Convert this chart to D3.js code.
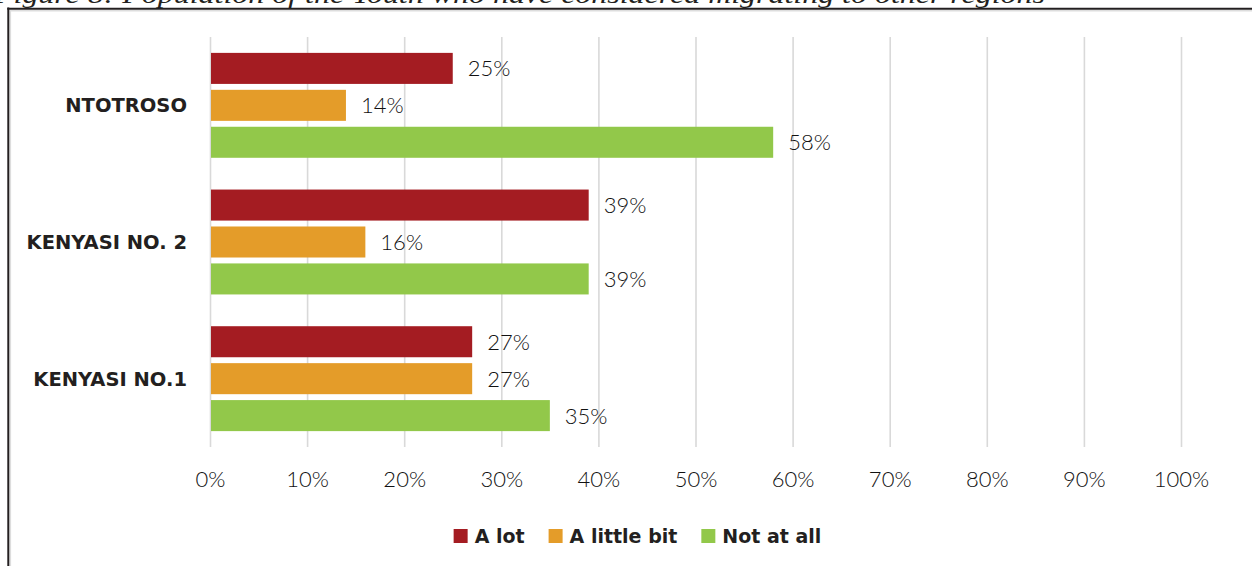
<!DOCTYPE html>
<html>
<head>
<meta charset="utf-8">
<script src="https://cdn.jsdelivr.net/npm/d3@7/dist/d3.min.js"></script>
<style>
  html, body { margin: 0; padding: 0; background: #ffffff; }
  svg { display: block; }
</style>
</head>
<body>
<svg id="chart" width="1252" height="566"></svg>
<script>
// Survey groups, top to bottom
const categories = ["NTOTROSO", "KENYASI NO. 2", "KENYASI NO.1"];
// Answer options
const seriesNames = ["A lot", "A little bit", "Not at all"];
// Share of respondents (%) per group
const aLot = [25, 39, 27];
const aLittleBit = [14, 16, 27];
const notAtAll = [58, 39, 35];
// Axis ticks
const tickValues = [0, 10, 20, 30, 40, 50, 60, 70, 80, 90, 100];
const tickLabels = ["0%", "10%", "20%", "30%", "40%", "50%", "60%", "70%", "80%", "90%", "100%"];
const captionText = "Figure 8: Population of the Youth who have considered migrating to other regions";

const seriesValues = [aLot, aLittleBit, notAtAll];
const colors = ["#a41c22", "#e49c29", "#92c84a"];

const rows = [];
categories.forEach((c, i) => {
  seriesNames.forEach((s, j) => rows.push({ category: c, series: s, value: seriesValues[j][i], color: colors[j] }));
});

const svg = d3.select("#chart");
svg.append("rect").attr("width", 1252).attr("height", 566).attr("fill", "#ffffff");

// Caption above the frame (runs off the top edge of the page)
svg.append("text")
  .attr("x", -6).attr("y", 2.5)
  .attr("textLength", 1051).attr("lengthAdjust", "spacingAndGlyphs")
  .style("font-family", "'Liberation Serif', serif")
  .style("font-style", "italic")
  .style("font-size", "25px")
  .attr("fill", "#231f20")
  .text(captionText);

// Frame
svg.append("line").attr("x1", 10.3).attr("x2", 10.3).attr("y1", 10).attr("y2", 566)
  .attr("stroke", "#dddddd").attr("stroke-width", 1.6);
svg.append("line").attr("x1", 10).attr("x2", 1252).attr("y1", 10.7).attr("y2", 10.7)
  .attr("stroke", "#dddddd").attr("stroke-width", 1.6);
svg.append("line").attr("x1", 8.3).attr("x2", 8.3).attr("y1", 7.5).attr("y2", 566)
  .attr("stroke", "#231f20").attr("stroke-width", 2);
svg.append("line").attr("x1", 7.3).attr("x2", 1252).attr("y1", 8.8).attr("y2", 8.8)
  .attr("stroke", "#231f20").attr("stroke-width", 2);

// Scales
const x = d3.scaleLinear().domain([0, 100]).range([210, 1181]);
const y0 = d3.scaleBand().domain(categories).range([37, 447]);
const y1 = d3.scaleBand().domain(seriesNames).range([0, y0.bandwidth()])
  .paddingInner(0.16).paddingOuter(0.43);

// Axis with vertical gridlines
const axis = d3.axisBottom(x)
  .tickValues(tickValues)
  .tickFormat((d, i) => tickLabels[i])
  .tickSize(-(447 - 37))
  .tickPadding(24);

const gAxis = svg.append("g").attr("transform", "translate(0,447)").call(axis);
gAxis.select(".domain").remove();
gAxis.selectAll(".tick line").attr("stroke", "#d9d9d9").attr("stroke-width", 1.6);
gAxis.selectAll(".tick text")
  .attr("fill", "#111111")
  .style("font-family", "Lato, 'Open Sans', sans-serif")
  .style("font-weight", 300)
  .style("font-size", "22px");

// Bars
const gBars = svg.append("g");
gBars.selectAll("rect").data(rows).join("rect")
  .attr("x", x(0) + 1)
  .attr("y", d => y0(d.category) + y1(d.series))
  .attr("width", d => x(d.value) - x(0) - 1)
  .attr("height", y1.bandwidth())
  .attr("fill", d => d.color);

// Value labels
gBars.selectAll("text").data(rows).join("text")
  .attr("x", d => x(d.value) + 15)
  .attr("y", d => y0(d.category) + y1(d.series) + y1.bandwidth() / 2)
  .attr("dy", "0.36em")
  .attr("fill", "#111111")
  .style("font-family", "Lato, 'Open Sans', sans-serif")
  .style("font-weight", 300)
  .style("font-size", "22px")
  .text(d => d.value + "%");

// Category labels
svg.append("g").selectAll("text").data(categories).join("text")
  .attr("x", 187)
  .attr("y", d => y0(d) + y0.bandwidth() / 2)
  .attr("dy", "0.36em")
  .attr("text-anchor", "end")
  .attr("fill", "#231f20")
  .style("font-family", "'DejaVu Sans', sans-serif")
  .style("font-weight", "bold")
  .style("font-size", "19.5px")
  .text(d => d);

// Legend
const legend = svg.append("g");
const items = legend.selectAll("g").data(seriesNames).join("g");
items.append("rect")
  .attr("width", 14).attr("height", 14)
  .attr("y", -7)
  .attr("fill", (d, i) => colors[i]);
items.append("text")
  .attr("x", 21)
  .attr("dy", "0.36em")
  .attr("fill", "#231f20")
  .style("font-family", "'DejaVu Sans', sans-serif")
  .style("font-weight", "bold")
  .style("font-size", "19px")
  .text(d => d);

let offset = 0;
const positions = [];
items.each(function () {
  const w = 21 + d3.select(this).select("text").node().getComputedTextLength();
  positions.push(offset);
  offset += w + 24;
});
const totalWidth = offset - 24;
const legendCenter = 637.5;
items.attr("transform", (d, i) => `translate(${legendCenter - totalWidth / 2 + positions[i]},536)`);
</script>
</body>
</html>
